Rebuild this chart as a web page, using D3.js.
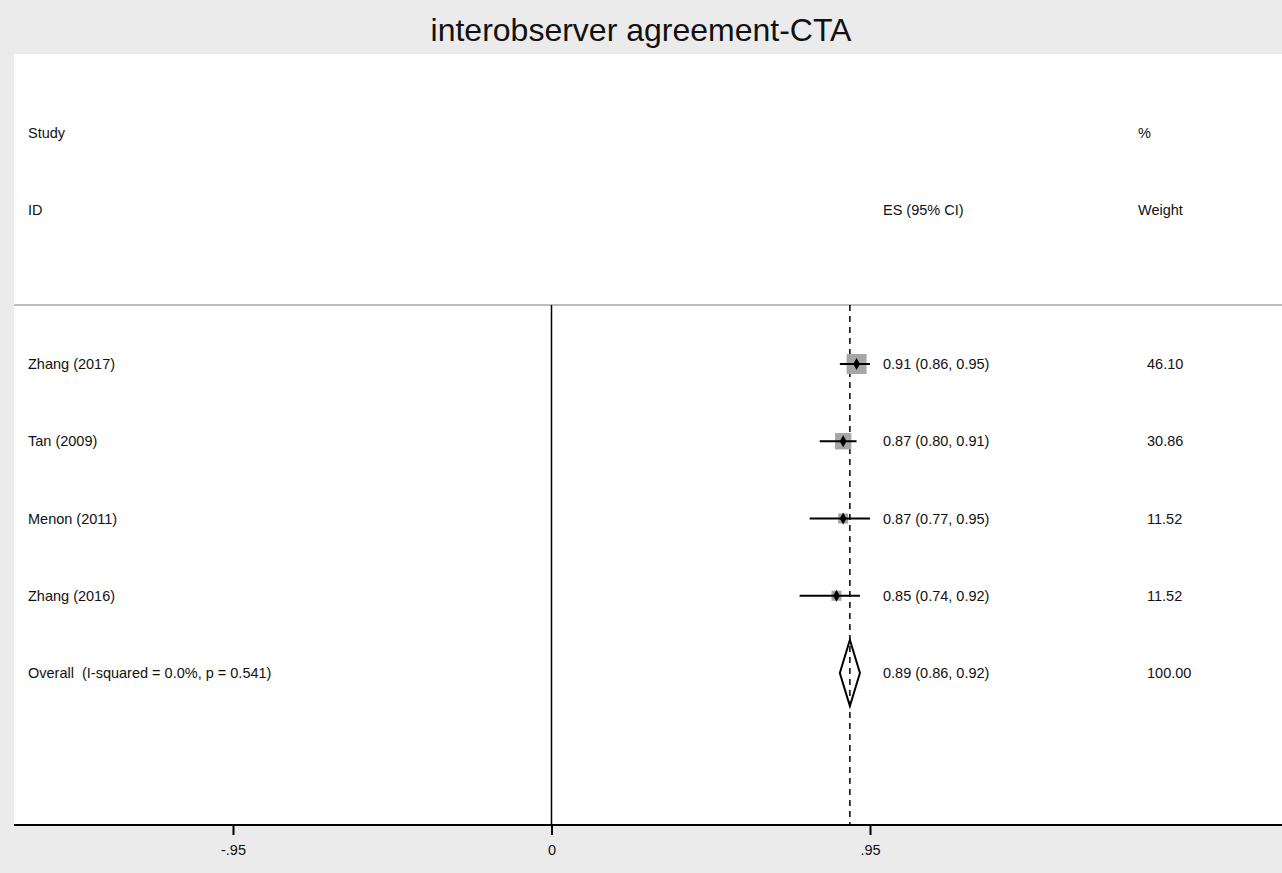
<!DOCTYPE html>
<html>
<head>
<meta charset="utf-8">
<script src="https://cdn.jsdelivr.net/npm/d3@7"></script>
<style>
  body { margin: 0; background: #ebebeb; }
  text { font-family: "Liberation Sans", Arial, sans-serif; fill: #111; white-space: pre; }
</style>
</head>
<body>
<svg id="chart" width="1282" height="873"></svg>
<script>
// study rows
var studies = ["Zhang (2017)", "Tan (2009)", "Menon (2011)", "Zhang (2016)"];
var es = [0.91, 0.87, 0.87, 0.85];
var lo = [0.86, 0.80, 0.77, 0.74];
var hi = [0.95, 0.91, 0.95, 0.92];
var weights = [46.10, 30.86, 11.52, 11.52];

// pooled estimate
var overallLabel = "Overall  (I-squared = 0.0%, p = 0.541)";
var overall = { es: 0.89, lo: 0.86, hi: 0.92, w: 100.00 };

var tickVals = [-0.95, 0, 0.95];
var tickLabels = ["-.95", "0", ".95"];

var svg = d3.select("#chart");
var W = 1282, H = 873;

// background + plot area
svg.append("rect").attr("width", W).attr("height", H).attr("fill", "#ebebeb");
svg.append("rect")
  .attr("x", 14).attr("y", 54)
  .attr("width", W - 14).attr("height", 825 - 54)
  .attr("fill", "#fff");

// title
svg.append("text")
  .attr("x", 641).attr("y", 41)
  .attr("text-anchor", "middle")
  .style("font-size", "32px")
  .text("interobserver agreement-CTA");

var x = d3.scaleLinear().domain([-0.95, 0.95]).range([233, 870]);
var rowsAll = studies.concat([overallLabel]);
var y = d3.scalePoint().domain(d3.range(rowsAll.length)).range([364, 673]);
var side = d3.scaleSqrt().domain([0, d3.max(weights)]).range([0, 20]);

var fmt = d3.format(".2f");
var fs = "14.5px";
var wx = 1147;

// headers
var head = svg.append("g").style("font-size", fs);
head.append("text").attr("x", 28).attr("y", 138).text("Study");
head.append("text").attr("x", 28).attr("y", 215).text("ID");
head.append("text").attr("x", 1138).attr("y", 138).text("%");
head.append("text").attr("x", 883).attr("y", 215).text("ES (95% CI)");
head.append("text").attr("x", 1138).attr("y", 215).text("Weight");

// separator
svg.append("line")
  .attr("x1", 14).attr("x2", W)
  .attr("y1", 305).attr("y2", 305)
  .attr("stroke", "#a8a8a8").attr("stroke-width", 1.5);

// null line
svg.append("line")
  .attr("x1", x(0)).attr("x2", x(0))
  .attr("y1", 305).attr("y2", 825)
  .attr("stroke", "#000").attr("stroke-width", 1.5);

// overall dashed line
svg.append("line")
  .attr("x1", x(overall.es)).attr("x2", x(overall.es))
  .attr("y1", 305).attr("y2", 825)
  .attr("stroke", "#000").attr("stroke-width", 1.5)
  .attr("stroke-dasharray", "6,5");

// study rows
var rows = svg.selectAll("g.row").data(studies).enter().append("g")
  .attr("class", "row")
  .attr("transform", function(d, i) { return "translate(0," + y(i) + ")"; });

rows.append("rect")
  .attr("x", function(d, i) { return x(es[i]) - side(weights[i]) / 2; })
  .attr("y", function(d, i) { return -side(weights[i]) / 2; })
  .attr("width", function(d, i) { return side(weights[i]); })
  .attr("height", function(d, i) { return side(weights[i]); })
  .attr("fill", "#a6a6a6");

rows.append("line")
  .attr("x1", function(d, i) { return x(lo[i]); })
  .attr("x2", function(d, i) { return x(hi[i]); })
  .attr("stroke", "#000").attr("stroke-width", 2);

rows.append("path")
  .attr("transform", function(d, i) { return "translate(" + x(es[i]) + ",0)"; })
  .attr("d", d3.symbol().type(d3.symbolDiamond).size(40))
  .attr("fill", "#000");

rows.append("text").attr("x", 28).attr("y", 5).style("font-size", fs)
  .text(function(d) { return d; });
rows.append("text").attr("x", 883).attr("y", 5).style("font-size", fs)
  .text(function(d, i) { return fmt(es[i]) + " (" + fmt(lo[i]) + ", " + fmt(hi[i]) + ")"; });
rows.append("text").attr("x", wx).attr("y", 5).style("font-size", fs)
  .text(function(d, i) { return fmt(weights[i]); });

// overall diamond
var yo = y(studies.length);
svg.append("path")
  .attr("d", "M" + x(overall.lo) + "," + yo +
             "L" + x(overall.es) + "," + (yo - 33) +
             "L" + x(overall.hi) + "," + yo +
             "L" + x(overall.es) + "," + (yo + 33) + "Z")
  .attr("fill", "none").attr("stroke", "#000").attr("stroke-width", 2);

svg.append("text").attr("x", 28).attr("y", yo + 5).style("font-size", fs).text(overallLabel);
svg.append("text").attr("x", 883).attr("y", yo + 5).style("font-size", fs)
  .text(fmt(overall.es) + " (" + fmt(overall.lo) + ", " + fmt(overall.hi) + ")");
svg.append("text").attr("x", wx).attr("y", yo + 5).style("font-size", fs).text(fmt(overall.w));

// x axis
svg.append("line")
  .attr("x1", 14).attr("x2", W)
  .attr("y1", 825).attr("y2", 825)
  .attr("stroke", "#000").attr("stroke-width", 2);

var axis = d3.axisBottom(x).tickValues(tickVals).tickSize(10)
  .tickFormat(function(d, i) { return tickLabels[i]; });
var ax = svg.append("g").attr("transform", "translate(0,825)").call(axis);
ax.select(".domain").remove();
ax.selectAll(".tick line").attr("stroke", "#000").attr("stroke-width", 2);
ax.selectAll(".tick text")
  .attr("y", 20)
  .style("font-family", "'Liberation Sans', Arial, sans-serif")
  .style("font-size", fs).attr("fill", "#111");
</script>
</body>
</html>
